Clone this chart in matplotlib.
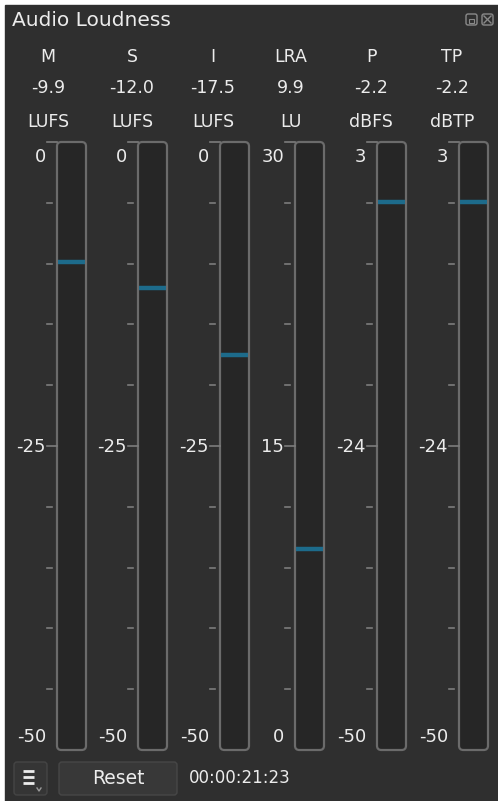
import numpy as np
import matplotlib

matplotlib.use("Agg")
import matplotlib.pyplot as plt
from matplotlib.patches import FancyBboxPatch, Rectangle
from matplotlib.transforms import blended_transform_factory

# meter data
names = ["M", "S", "I", "LRA", "P", "TP"]
units = ["LUFS", "LUFS", "LUFS", "LU", "dBFS", "dBTP"]
values = [-9.9, -12.0, -17.5, 9.9, -2.2, -2.2]
scale_top = [0, 0, 0, 30, 3, 3]
scale_mid = [-25, -25, -25, 15, -24, -24]
scale_bottom = [-50, -50, -50, 0, -50, -50]
elapsed = "00:00:21:23"

W, H = 498, 801
PANEL = "#2f2f2f"
METER_BG = "#262626"
BORDER = "#6b6b6b"
TICK = "#7c7c7c"
TEXT = "#ececec"
LEVEL = "#1d6b8b"

fig = plt.figure(figsize=(W / 100, H / 100), dpi=100, facecolor="white")

# window chrome, drawn in pixel coordinates
bg = fig.add_axes([0, 0, 1, 1])
bg.set_xlim(0, W)
bg.set_ylim(H, 0)
bg.axis("off")
bg.add_patch(Rectangle((5, 5), W, H, color=PANEL))
bg.text(12, 20, "Audio Loudness", color=TEXT, fontsize=14.5, va="center", ha="left")
for x0 in (466, 482):
    bg.add_patch(FancyBboxPatch((x0, 14), 11, 11, boxstyle="round,pad=0,rounding_size=2",
                                fc="none", ec="#8a8a8a", lw=1.0))
bg.plot([484, 491], [16, 23], color="#8a8a8a", lw=1.0)
bg.plot([484, 491], [23, 16], color="#8a8a8a", lw=1.0)
bg.add_patch(Rectangle((469, 19), 5, 4, fc="none", ec="#8a8a8a", lw=0.8))

# bottom bar: menu button, reset button, timer
bg.add_patch(FancyBboxPatch((14, 762), 33, 33, boxstyle="round,pad=0,rounding_size=3",
                            fc="#353535", ec="#454545", lw=1.0))
for yy in (771, 777, 783):
    bg.plot([23, 34], [yy, yy], color=TEXT, lw=2.0, solid_capstyle="butt")
bg.plot([37, 39, 41], [788, 791, 788], color="#9a9a9a", lw=1.0)
bg.add_patch(FancyBboxPatch((59, 762), 118, 33, boxstyle="round,pad=0,rounding_size=3",
                            fc="#383838", ec="#474747", lw=1.0))
bg.text(118, 778, "Reset", color=TEXT, fontsize=13.5, ha="center", va="center")
bg.text(189, 778, elapsed, color=TEXT, fontsize=12, ha="left", va="center")

# column layout (pixels)
col_x = [48, 132, 213, 291, 371, 452]
meter_left = [57, 138, 220, 295, 377, 459]
meter_w = 29
meter_top, meter_bot = 142, 750

for i, name in enumerate(names):
    bg.text(col_x[i], 57, name, color=TEXT, fontsize=12.5, ha="center", va="center")
    bg.text(col_x[i], 88, f"{values[i]:.1f}", color=TEXT, fontsize=12.5, ha="center", va="center")
    bg.text(col_x[i], 122, units[i], color=TEXT, fontsize=12.5, ha="center", va="center")

    ax = fig.add_axes([meter_left[i] / W, 1 - meter_bot / H, meter_w / W,
                       (meter_bot - meter_top) / H])
    ax.set_xlim(0, 1)
    ax.set_ylim(scale_bottom[i], scale_top[i])
    ax.axis("off")
    ax.add_patch(FancyBboxPatch((0, 0), 1, 1, transform=ax.transAxes,
                                boxstyle="round,pad=0,rounding_size=0.15",
                                mutation_aspect=meter_w / (meter_bot - meter_top),
                                fc=METER_BG, ec=BORDER, lw=1.6, clip_on=False))

    # scale ticks: major at top and middle, short minor ticks in between
    blend = blended_transform_factory(ax.transAxes, ax.transData)
    ticks = np.linspace(scale_top[i], scale_bottom[i], 11)
    for k, t in enumerate(ticks[:-1]):
        x0 = -10 / meter_w
        x1 = 0 if k % 5 == 0 else -5 / meter_w
        ax.plot([x0, x1], [t, t], color=TICK, lw=1.2, transform=blend, clip_on=False)

    # labels sit at the top, middle and bottom tick positions
    for lab, t, dy in ((scale_top[i], ticks[0], -15), (scale_mid[i], ticks[5], -1),
                       (scale_bottom[i], ticks[10], 13)):
        ax.annotate(str(lab), xy=(-11 / meter_w, t), xycoords=blend,
                    xytext=(0, dy), textcoords="offset pixels",
                    ha="right", va="center", color=TEXT, fontsize=13)

    # current level marker
    ax.hlines(values[i], 0.04, 0.96, color=LEVEL, lw=3.2)

fig.savefig("out.png", dpi=100, facecolor=fig.get_facecolor())
